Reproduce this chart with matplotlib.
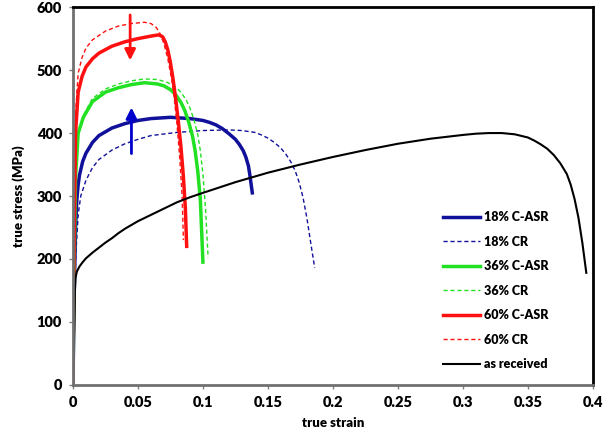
import matplotlib.pyplot as plt

plt.rcParams['font.family'] = ['Lato', 'DejaVu Sans']
plt.rcParams['font.weight'] = 'heavy'

# as received
ar_x = [0, 0.001, 0.0015, 0.002, 0.003, 0.005, 0.0075, 0.01, 0.015, 0.02, 0.025, 0.03, 0.035,
        0.04, 0.05, 0.06, 0.07, 0.08, 0.09, 0.1, 0.125, 0.15, 0.175, 0.2, 0.225, 0.25, 0.275,
        0.3, 0.31, 0.32, 0.33, 0.34, 0.35, 0.355, 0.36, 0.365, 0.37, 0.375, 0.38, 0.383,
        0.386, 0.389, 0.392, 0.395]
ar_y = [0, 100, 150, 170, 180, 188, 195, 201, 210, 218, 226, 233, 241,
        248, 260, 270, 280, 290, 298, 305, 322, 337, 350, 362, 373, 383, 391,
        397, 399, 400, 400, 398, 393, 388, 382, 375, 365, 352, 335, 318,
        295, 265, 225, 178]

# 18%
asr18_x = [0, 0.001, 0.002, 0.003, 0.004, 0.005, 0.0075, 0.01, 0.015, 0.02, 0.03, 0.04, 0.05,
           0.06, 0.075, 0.09, 0.1, 0.105, 0.11, 0.115, 0.12, 0.125, 0.128, 0.131, 0.133,
           0.135, 0.136, 0.137, 0.138]
asr18_y = [0, 150, 250, 295, 318, 333, 355, 368, 385, 396, 408, 415, 420,
           423, 425, 423, 420, 417, 413, 407, 399, 390, 382, 372, 362,
           348, 335, 320, 305]
cr18_x = [0, 0.002, 0.004, 0.006, 0.01, 0.015, 0.02, 0.03, 0.04, 0.05, 0.06, 0.08, 0.1, 0.12,
          0.13, 0.14, 0.145, 0.15, 0.155, 0.16, 0.164, 0.168, 0.171, 0.174, 0.177, 0.18,
          0.183, 0.186]
cr18_y = [0, 200, 270, 300, 325, 345, 358, 373, 383, 390, 396, 401, 404, 405,
          404, 401, 397, 392, 385, 376, 366, 353, 340, 322, 298, 265, 225, 186]

# 36%
asr36_x = [0, 0.001, 0.002, 0.004, 0.008, 0.015, 0.025, 0.035, 0.045, 0.055, 0.065, 0.07,
           0.075, 0.079, 0.083, 0.086, 0.089, 0.092, 0.094, 0.096, 0.098, 0.1]
asr36_y = [0, 200, 330, 400, 425, 450, 465, 472, 477, 480, 478, 475,
           469, 461, 449, 436, 418, 395, 372, 340, 295, 195]
cr36_x = [0, 0.001, 0.002, 0.004, 0.008, 0.015, 0.025, 0.035, 0.045, 0.055, 0.065, 0.072,
          0.078, 0.083, 0.087, 0.09, 0.093, 0.096, 0.098, 0.1, 0.102, 0.104]
cr36_y = [0, 220, 340, 395, 428, 455, 470, 478, 483, 486, 485, 481,
          475, 465, 453, 440, 422, 398, 372, 335, 280, 202]

# 60%
asr60_x = [0, 0.001, 0.002, 0.004, 0.007, 0.01, 0.015, 0.02, 0.03, 0.04, 0.05, 0.06, 0.066,
           0.069, 0.071, 0.073, 0.075, 0.077, 0.079, 0.081, 0.083, 0.085, 0.0865, 0.0875]
asr60_y = [0, 250, 400, 465, 490, 505, 518, 527, 538, 545, 550, 554, 556,
           553, 545, 532, 512, 486, 455, 420, 380, 330, 280, 220]
cr60_x = [0, 0.001, 0.002, 0.004, 0.007, 0.01, 0.015, 0.025, 0.035, 0.045, 0.055, 0.06,
          0.064, 0.067, 0.07, 0.073, 0.076, 0.078, 0.08, 0.082, 0.084, 0.085]
cr60_y = [0, 300, 430, 495, 520, 535, 548, 562, 570, 574, 576, 574,
          568, 558, 542, 518, 485, 455, 415, 365, 300, 230]

navy = '#10109a'
green = '#22e022'
red = '#ff1010'

fig = plt.figure(figsize=(6.08, 4.47), dpi=100)
ax = fig.add_axes([0.120, 0.139, 0.855, 0.845])

ax.plot(asr18_x, asr18_y, color=navy, lw=2.5, label='18% C-ASR')
ax.plot(cr18_x, cr18_y, '--', color=navy, lw=1, dashes=(3, 2), label='18% CR')
ax.plot(asr36_x, asr36_y, color=green, lw=2.5, label='36% C-ASR')
ax.plot(cr36_x, cr36_y, '--', color=green, lw=1, dashes=(3, 2), label='36% CR')
ax.plot(asr60_x, asr60_y, color=red, lw=2.5, label='60% C-ASR')
ax.plot(cr60_x, cr60_y, '--', color=red, lw=1, dashes=(3, 2), label='60% CR')
ax.plot(ar_x, ar_y, color='black', lw=1.5, label='as received')

# arrows
ax.annotate('', xy=(0.044, 511), xytext=(0.044, 592),
            arrowprops=dict(arrowstyle='-|>', color=red, lw=2, mutation_scale=16))
ax.annotate('', xy=(0.045, 445), xytext=(0.045, 363),
            arrowprops=dict(arrowstyle='-|>', color='#0000cc', lw=2, mutation_scale=16))

ax.set_xlim(0, 0.4)
ax.set_ylim(0, 600)
ax.set_xticks([0, 0.05, 0.1, 0.15, 0.2, 0.25, 0.3, 0.35, 0.4])
ax.set_xticklabels(['0', '0.05', '0.1', '0.15', '0.2', '0.25', '0.3', '0.35', '0.4'])
ax.set_yticks(range(0, 601, 100))
ax.tick_params(labelsize=10.5, length=3, color='#808080', width=1, pad=5)
for lab in ax.get_xticklabels() + ax.get_yticklabels():
    lab.set_fontweight('heavy')
ax.set_xlabel('true strain', fontsize=9.5, fontweight='heavy', labelpad=6)
ax.set_ylabel('true stress (MPa)', fontsize=9.5, fontweight='heavy', labelpad=8)

for s in ['left', 'bottom']:
    ax.spines[s].set_color('#707070')
    ax.spines[s].set_linewidth(2)
for s in ['top', 'right']:
    ax.spines[s].set_color('black')
    ax.spines[s].set_linewidth(2)

leg = ax.legend(loc='upper left', bbox_to_anchor=(0.69, 0.49), frameon=False,
                labelspacing=1.0, handlelength=3.0, handletextpad=0.3,
                prop={'weight': 'heavy', 'size': 9})

fig.savefig('out.png', dpi=100)
